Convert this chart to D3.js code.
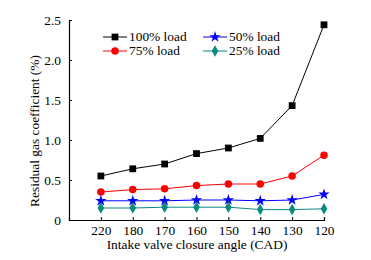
<!DOCTYPE html>
<html>
<head>
<meta charset="utf-8">
<script src="https://cdn.jsdelivr.net/npm/d3@7"></script>
<style>
  body { margin: 0; background: #fff; }
  text { font-family: "Liberation Serif", "Times New Roman", serif; }
</style>
</head>
<body>
<svg id="chart" width="371" height="260"></svg>
<script>
// closure angles (CAD), plotted left to right
const angles = ["220", "180", "170", "160", "150", "140", "130", "120"];
const load100 = [0.55, 0.64, 0.70, 0.83, 0.90, 1.02, 1.43, 2.44];
const load75 = [0.35, 0.38, 0.39, 0.43, 0.45, 0.45, 0.55, 0.81];
const load50 = [0.24, 0.24, 0.24, 0.25, 0.25, 0.24, 0.25, 0.32];
const load25 = [0.15, 0.15, 0.16, 0.16, 0.16, 0.13, 0.13, 0.14];
const yTicks = [0, 0.5, 1.0, 1.5, 2.0, 2.5];

const series = [
    { name: "100% load", values: load100, color: "#000000", symbol: d3.symbolSquare, size: 46 },
    { name: "75% load", values: load75, color: "#ff0000", symbol: d3.symbolCircle, size: 44 },
    { name: "50% load", values: load50, color: "#0000ff", symbol: d3.symbolStar, size: 40 },
    { name: "25% load", values: load25, color: "#0a8a80", symbol: d3.symbolDiamond, size: 38 }
];

const fs = "13.4px";
const margin = { left: 69, top: 20, right: 47, bottom: 40 };
const svg = d3.select("#chart");
const W = 371, H = 260;

// an empty slot in front of the first category
const x = d3.scalePoint()
    .domain([""].concat(angles))
    .range([margin.left, W - margin.right]);
const y = d3.scaleLinear()
    .domain([0, 2.5])
    .range([H - margin.bottom, margin.top]);

// axes
const yAxis = d3.axisLeft(y)
    .tickValues(yTicks)
    .tickSize(-3)
    .tickPadding(8)
    .tickFormat(d => d === 0 ? "0" : d3.format(".1f")(d));
const gy = svg.append("g")
    .attr("transform", `translate(${margin.left},0)`)
    .call(yAxis);

const xAxis = d3.axisBottom(x)
    .tickValues(angles)
    .tickSize(-3)
    .tickPadding(5);
const gx = svg.append("g")
    .attr("transform", `translate(0,${H - margin.bottom})`)
    .call(xAxis);

[gx, gy].forEach(g => {
    g.select(".domain").attr("stroke", "#000").attr("stroke-width", 1.2);
    g.selectAll(".tick line").attr("stroke", "#000");
    g.selectAll(".tick text")
        .attr("fill", "#000")
        .style("font-size", fs)
        .style("font-family", "'Liberation Serif', serif");
});

// axis titles
svg.append("text")
    .attr("x", 197)
    .attr("y", 249)
    .attr("text-anchor", "middle")
    .style("font-size", fs)
    .text("Intake valve closure angle (CAD)");
svg.append("text")
    .attr("transform", "translate(39,131) rotate(-90)")
    .attr("text-anchor", "middle")
    .style("font-size", fs)
    .text("Residual gas coefficient (%)");

// lines + markers
const line = d3.line()
    .x((d, i) => x(angles[i]))
    .y(d => y(d));

series.forEach(s => {
    svg.append("path")
        .datum(s.values)
        .attr("d", line)
        .attr("fill", "none")
        .attr("stroke", s.color)
        .attr("stroke-width", 1);
    svg.selectAll(null)
        .data(s.values)
        .enter()
        .append("path")
        .attr("d", d3.symbol().type(s.symbol).size(s.size))
        .attr("transform", (d, i) => `translate(${x(angles[i])},${y(d)})`)
        .attr("fill", s.color);
});

// legend, two columns
const legendPos = [[103, 37], [103, 51], [203, 37], [203, 51]];
series.forEach((s, i) => {
    const [lx, ly] = legendPos[i];
    const g = svg.append("g").attr("transform", `translate(${lx},${ly})`);
    g.append("line")
        .attr("x1", 0).attr("x2", 24)
        .attr("stroke", s.color)
        .attr("stroke-width", 1);
    g.append("path")
        .attr("d", d3.symbol().type(s.symbol).size(s.size))
        .attr("transform", "translate(12,0)")
        .attr("fill", s.color);
    g.append("text")
        .attr("x", 26)
        .attr("dy", "0.33em")
        .style("font-size", fs)
        .text(s.name);
});
</script>
</body>
</html>
